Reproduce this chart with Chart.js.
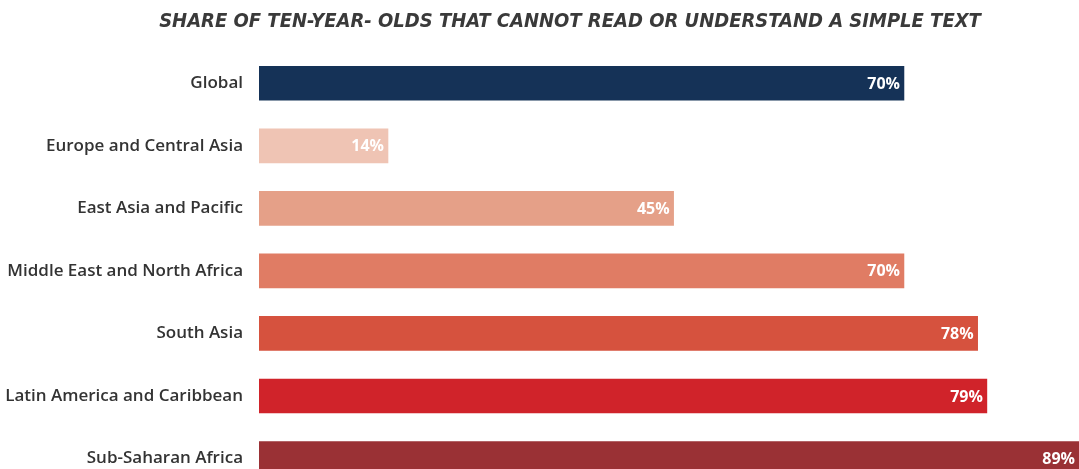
<!DOCTYPE html>
<html>
<head>
<meta charset="utf-8">
<script src="https://cdn.jsdelivr.net/npm/chart.js@4.4.0/dist/chart.umd.min.js"></script>
<style>
  html, body { margin: 0; padding: 0; background: #fff; overflow: hidden; }
  #barChart { display: block; }
</style>
</head>
<body>
<!-- taller than the window: the last bar is cut off at the bottom like the original -->
<canvas id="barChart" width="1079" height="516"></canvas>
<script>
const regions = ['Global', 'Europe and Central Asia', 'East Asia and Pacific', 'Middle East and North Africa', 'South Asia', 'Latin America and Caribbean', 'Sub-Saharan Africa'];
const shares = [70, 14, 45, 70, 78, 79, 89];
const barColors = ['#153257', '#efc4b4', '#e5a088', '#e07c64', '#d6523e', '#d0232a', '#9a3135'];
const titleText = 'SHARE OF TEN-YEAR- OLDS THAT CANNOT READ OR UNDERSTAND A SIMPLE TEXT';

const ctxBar = document.getElementById('barChart').getContext('2d');

// title sits a bit right of the canvas centre in the original
const titlePlugin = {
  id: 'offsetTitle',
  afterDraw(chart) {
    const ctx = chart.ctx;
    ctx.save();
    ctx.font = 'italic bold 20px "Liberation Sans Narrow", "DejaVu Sans Condensed", sans-serif';
    ctx.fillStyle = '#3a3a3a';
    ctx.textAlign = 'center';
    ctx.textBaseline = 'middle';
    ctx.fillText(titleText, 570, 22);
    ctx.restore();
  }
};

// white value labels at the end of each bar
const valueLabels = {
  id: 'valueLabels',
  afterDatasetsDraw(chart) {
    const ctx = chart.ctx;
    const meta = chart.getDatasetMeta(0);
    ctx.save();
    ctx.font = 'bold 16px "Open Sans"';
    ctx.fillStyle = '#ffffff';
    ctx.textAlign = 'right';
    ctx.textBaseline = 'middle';
    meta.data.forEach((bar, i) => {
      ctx.fillText(shares[i] + '%', bar.x - 4, bar.y + 1);
    });
    ctx.restore();
  }
};

const barChart = new Chart(ctxBar, {
  type: 'bar',
  data: {
    labels: regions,
    datasets: [{
      data: shares,
      backgroundColor: barColors,
      borderWidth: 0,
      barThickness: 34
    }]
  },
  options: {
    indexAxis: 'y',
    responsive: false,
    animation: false,
    layout: { padding: { left: 0, right: 0, top: 52, bottom: 0 } },
    plugins: {
      legend: { display: false },
      tooltip: { enabled: false },
      title: { display: false }
    },
    scales: {
      x: { display: false, min: 0, max: 89 },
      y: {
        grid: { display: false, drawTicks: false },
        border: { display: false },
        ticks: {
          padding: 16,
          color: '#333333',
          font: { family: '"Open Sans", sans-serif', size: 17, weight: '600' }
        },
        afterFit(scale) { scale.width = 259; }
      }
    }
  },
  plugins: [valueLabels, titlePlugin]
});
</script>
</body>
</html>
